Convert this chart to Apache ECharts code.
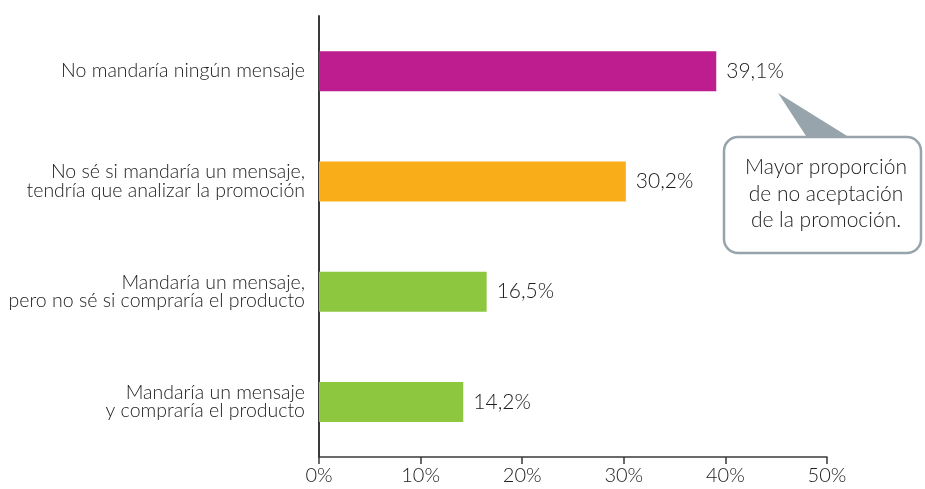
<!DOCTYPE html>
<html>
<head>
<meta charset="utf-8">
<script src="https://cdn.jsdelivr.net/npm/echarts@6/dist/echarts.min.js"></script>
<style>
  html, body { margin: 0; padding: 0; background: #fff; }
  #chart { width: 925px; height: 489px; }
</style>
</head>
<body>
<div id="chart"></div>
<script>
// Survey answers, bottom to top as the category axis draws them
const categories = [
  'Mandaría un mensaje\ny compraría el producto',
  'Mandaría un mensaje,\npero no sé si compraría el producto',
  'No sé si mandaría un mensaje,\ntendría que analizar la promoción',
  'No mandaría ningún mensaje'
];
const values = [14.2, 16.5, 30.2, 39.1];
const barColors = ['#8DC63F', '#8DC63F', '#F9AE19', '#BD1D8E'];
const xTicks = [0, 10, 20, 30, 40, 50];
const calloutLines = ['Mayor proporción', 'de no aceptación', 'de la promoción.'];

const FONT = 'Lato, "Noto Sans", sans-serif';
const TEXT = '#1c1c1c';
const chart = echarts.init(document.getElementById('chart'), null, { renderer: 'canvas' });

chart.setOption({
  animation: false,
  textStyle: { fontFamily: FONT },
  grid: { left: 319, right: 98, top: 16, bottom: 32, containLabel: false },
  xAxis: {
    type: 'value',
    min: xTicks[0],
    max: xTicks[xTicks.length - 1],
    interval: 10,
    splitLine: { show: false },
    axisLine: { show: true, lineStyle: { color: '#3a3a3a', width: 1.5 } },
    axisTick: { show: true, length: 7, lineStyle: { color: '#3a3a3a', width: 1.5 } },
    axisLabel: { color: TEXT, fontSize: 20, fontWeight: 300, fontFamily: FONT, margin: 9, formatter: v => v + '%' }
  },
  yAxis: {
    type: 'category',
    data: categories,
    axisLine: { show: true, lineStyle: { color: '#3a3a3a', width: 2 } },
    axisTick: { show: false },
    axisLabel: { color: TEXT, fontSize: 19.5, fontWeight: 300, lineHeight: 18.5, fontFamily: FONT, margin: 14, align: 'right' }
  },
  series: [{
    type: 'bar',
    barWidth: 40,
    data: values.map((v, i) => ({ value: v, itemStyle: { color: barColors[i] } })),
    label: {
      show: true,
      position: 'right',
      distance: 10,
      color: TEXT,
      fontSize: 21,
      fontWeight: 300,
      fontFamily: FONT,
      formatter: p => p.value.toFixed(1).replace('.', ',') + '%'
    }
  }],
  graphic: [
    {
      type: 'polygon',
      shape: { points: [[778, 93], [808, 139], [852, 139]] },
      style: { fill: '#97A4AB' },
      z: 10
    },
    {
      type: 'rect',
      shape: { x: 724, y: 137, width: 197, height: 116, r: 14 },
      style: { fill: '#fff', stroke: '#97A4AB', lineWidth: 2.5 },
      z: 11
    },
    {
      type: 'text',
      x: 826,
      y: 154,
      style: {
        text: calloutLines.join('\n'),
        fill: TEXT,
        font: '300 21px ' + FONT,
        lineHeight: 26.5,
        align: 'center',
        verticalAlign: 'top'
      },
      z: 12
    }
  ]
});
</script>
</body>
</html>
